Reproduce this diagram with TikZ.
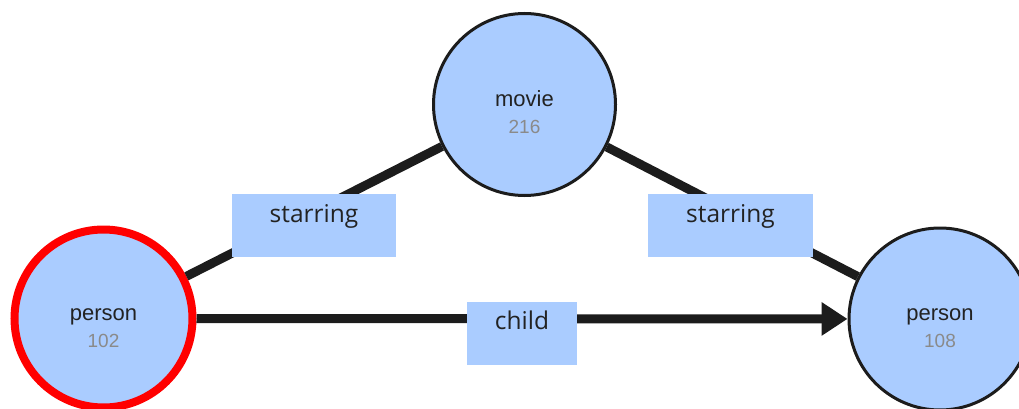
\documentclass[tikz,border=0pt]{standalone}
\usepackage{fontspec}
\setmainfont{Liberation Sans}
\newfontfamily\labfont{Open Sans}
\usetikzlibrary{arrows.meta}
\definecolor{nodefill}{HTML}{AACCFF}
\definecolor{edgecol}{HTML}{1C1C1C}
\definecolor{numcol}{HTML}{8A8A8A}
\definecolor{txtcol}{HTML}{222222}
\tikzset{
  entity/.style={circle, fill=nodefill, draw=edgecol, line width=3pt, minimum size=182pt, inner sep=0pt, align=center, text=txtcol, text height=60pt, text depth=3pt, font=\fontsize{22}{26}\selectfont},
  focus/.style={entity, draw=red, line width=8pt, minimum size=178pt},
  rel/.style={draw=edgecol, line width=9pt},
  relbox/.style={fill=nodefill, inner xsep=0pt, inner ysep=0pt, text height=28pt, text depth=35pt, minimum height=63pt, text=txtcol, font=\labfont\fontsize{24.5}{28}\selectfont},
}
\newcommand{\num}[1]{{\color{numcol}\fontsize{19}{22}\selectfont #1}}
\begin{document}
\begin{tikzpicture}[x=1pt,y=-1pt]
\useasboundingbox (0,0) rectangle (1019,409);
\node[entity] (movie) at (524.5,104.5) {movie\\[1pt]\num{216}};
\node[focus] (p102) at (103.5,318.5) {person\\[1pt]\num{102}};
\node[entity] (p108) at (940,319) {person\\[1pt]\num{108}};
\draw[rel] (p102) -- (movie);
\draw[rel] (movie) -- (p108);
\draw[rel, -{Triangle[length=26pt,width=32pt]}] (p102) -- (p108);
\node[relbox, minimum width=164pt, text width=164pt, align=center] (s1) at (314,225.5) {starring};
\node[relbox, minimum width=165pt, text width=165pt, align=center] (s2) at (730.5,225.5) {starring};
\node[relbox, minimum width=110pt, text width=110pt, align=center] (c1) at (522,333) {child};
\end{tikzpicture}
\end{document}
